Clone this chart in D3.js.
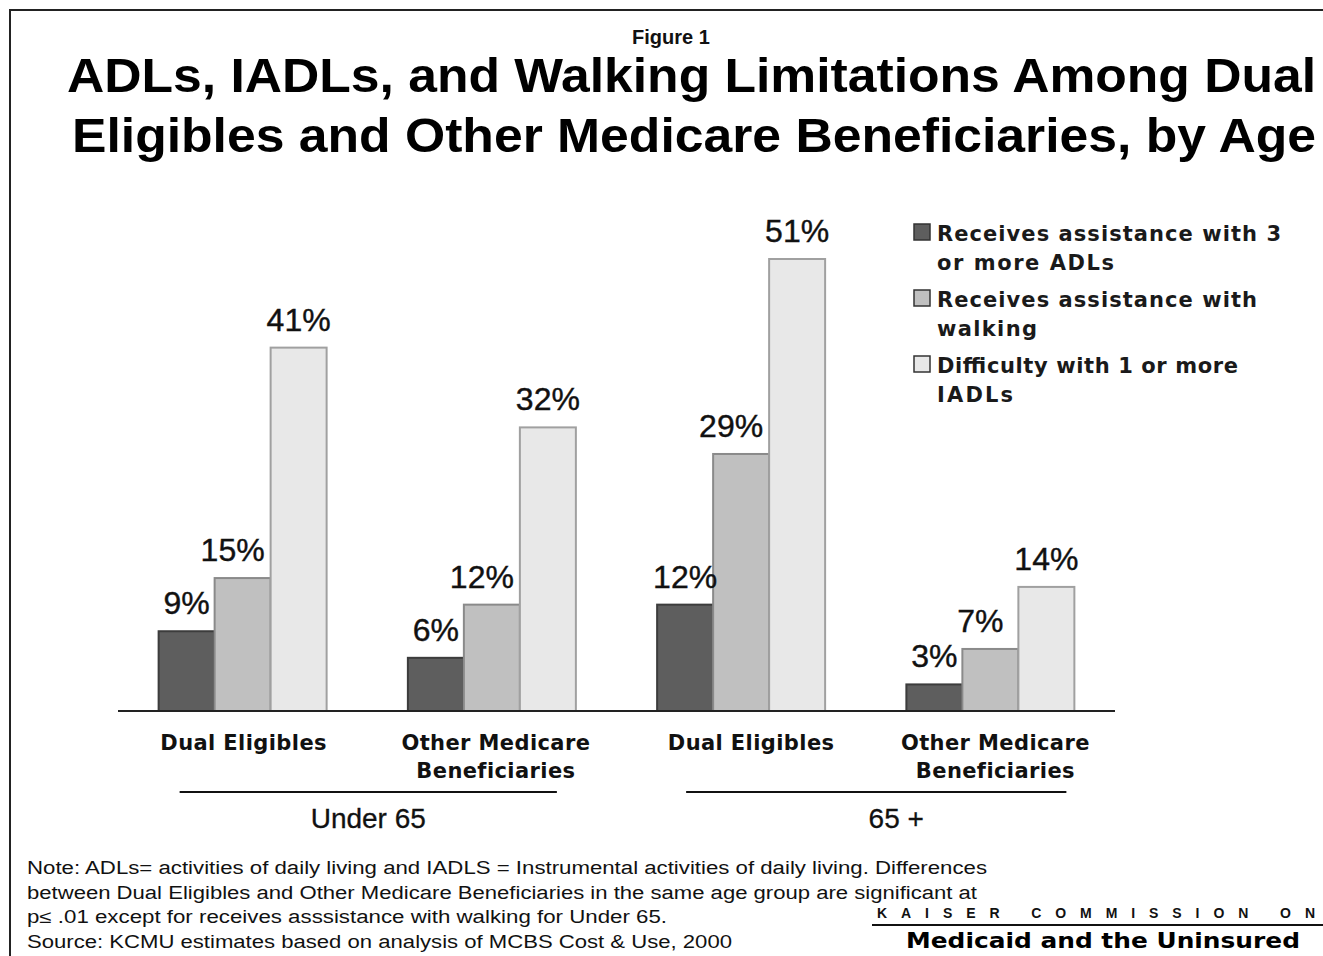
<!DOCTYPE html>
<html><head><meta charset="utf-8">
<script src="https://cdn.jsdelivr.net/npm/d3@7"></script>
<style>body{margin:0;background:#fff}svg{display:block}</style>
</head><body>
<svg id="c" width="1323" height="956"></svg>
<script>
const groups = ["Dual Eligibles|U65", "Other Medicare Beneficiaries|U65", "Dual Eligibles|65", "Other Medicare Beneficiaries|65"];
const groupLabels = [["Dual Eligibles"], ["Other Medicare", "Beneficiaries"], ["Dual Eligibles"], ["Other Medicare", "Beneficiaries"]];
const ageGroups = ["Under 65", "65 +"];
const seriesNames = ["Receives assistance with 3 or more ADLs", "Receives assistance with walking", "Difficulty with 1 or more IADLs"];
const legendLines = [["Receives assistance with 3", "or more ADLs"], ["Receives assistance with", "walking"], ["Difficulty with 1 or more", "IADLs"]];
const adl3 = [9, 6, 12, 3];
const walking = [15, 12, 29, 7];
const iadl = [41, 32, 51, 14];
const values = [adl3, walking, iadl];
const noteLines = [
  "Note: ADLs= activities of daily living and IADLS = Instrumental activities of daily living.  Differences",
  "between Dual Eligibles and Other Medicare Beneficiaries in the same age group are significant at",
  "p\u2264 .01 except for receives asssistance  with walking for Under 65.",
  "Source: KCMU estimates based on analysis of MCBS Cost & Use, 2000"
];

const svg = d3.select("#c");
const fills = ["#5e5e5e", "#c0c0c0", "#e8e8e8"];
const strokes = ["#3c3c3c", "#8a8a8a", "#a0a0a0"];

// border
svg.append("path").attr("d", "M10,956 L10,10 L1323,10").attr("fill", "none").attr("stroke", "#222").attr("stroke-width", 2);

// titles
svg.append("text").attr("x", 671).attr("y", 44).attr("text-anchor", "middle")
  .attr("font-family", "Liberation Sans, Arial, sans-serif").attr("font-size", 20).attr("font-weight", "bold").attr("fill", "#111").text("Figure 1");
const t = svg.append("g").attr("font-family", "Liberation Sans, Arial, sans-serif").attr("font-weight", "bold").attr("font-size", 48).attr("fill", "#000");
t.append("text").attr("x", 67).attr("y", 92).attr("textLength", 1249).attr("lengthAdjust", "spacingAndGlyphs").text("ADLs, IADLs, and Walking Limitations Among Dual");
t.append("text").attr("x", 72).attr("y", 152).attr("textLength", 1244).attr("lengthAdjust", "spacingAndGlyphs").text("Eligibles and Other Medicare Beneficiaries, by Age");

// scales
const x0 = d3.scaleBand().domain(groups).range([118, 1115]).paddingInner(0.326).paddingOuter(0.163);
const x1 = d3.scaleBand().domain(d3.range(3)).range([0, x0.bandwidth()]);
const y = d3.scaleLinear().domain([0, 51]).range([711, 259]);

const data = [];
groups.forEach((g, gi) => values.forEach((s, si) => data.push({g, gi, si, v: s[gi]})));

const bars = svg.append("g");
bars.selectAll("rect").data(data).join("rect")
  .attr("x", d => x0(d.g) + x1(d.si))
  .attr("y", d => y(d.v))
  .attr("width", x1.bandwidth())
  .attr("height", d => y(0) - y(d.v))
  .attr("fill", d => fills[d.si])
  .attr("stroke", d => strokes[d.si]).attr("stroke-width", 2);

const labelDx = [0, -10, 0];
svg.append("g").selectAll("text").data(data).join("text")
  .attr("x", d => x0(d.g) + x1(d.si) + x1.bandwidth() / 2 + labelDx[d.si])
  .attr("y", d => y(d.v) - 17)
  .attr("text-anchor", "middle")
  .attr("font-family", "Liberation Sans, Arial, sans-serif").attr("font-size", 32).attr("fill", "#111")
  .attr("stroke", "#111").attr("stroke-width", 0.4)
  .text(d => d.v + "%");

// axis baseline
const ax = svg.append("g").attr("transform", "translate(0,711)");
ax.call(d3.axisBottom(x0).tickSize(0).tickFormat(""));
ax.select(".domain").attr("stroke", "#222").attr("stroke-width", 2).attr("d", "M118,0H1115");

// category labels
const catDx = [1, 4, 10, 5];
const cl = svg.append("g").attr("font-family", "DejaVu Sans, Verdana, sans-serif").attr("font-weight", "bold").attr("font-size", 21).attr("fill", "#111").attr("letter-spacing", 0.4);
groups.forEach((g, gi) => {
  groupLabels[gi].forEach((ln, li) => {
    cl.append("text").attr("x", x0(g) + x0.bandwidth() / 2 + catDx[gi]).attr("y", 750 + li * 28).attr("text-anchor", "middle").text(ln);
  });
});

// age groups
const ageLineDx = [[-63, 65], [-55, 76]];
const ageTextDx = [0, 20];
ageGroups.forEach((a, ai) => {
  const xa = x0(groups[ai * 2]) + x0.bandwidth() / 2;
  const xb = x0(groups[ai * 2 + 1]) + x0.bandwidth() / 2;
  const l1 = xa + ageLineDx[ai][0], l2 = xb + ageLineDx[ai][1];
  svg.append("line").attr("x1", l1).attr("x2", l2).attr("y1", 792).attr("y2", 792).attr("stroke", "#111").attr("stroke-width", 2);
  svg.append("text").attr("x", (l1 + l2) / 2 + ageTextDx[ai]).attr("y", 828).attr("text-anchor", "middle")
    .attr("font-family", "Liberation Sans, Arial, sans-serif").attr("font-size", 28).attr("fill", "#111")
    .attr("stroke", "#111").attr("stroke-width", 0.3).text(a);
});

// legend
const lg = svg.append("g");
const legendLen = [[344, 177], [320, 100], [301, 76]];
legendLines.forEach((lines, i) => {
  const yy = 224 + i * 66;
  lg.append("rect").attr("x", 914).attr("y", yy).attr("width", 16).attr("height", 16)
    .attr("fill", fills[i]).attr("stroke", "#333").attr("stroke-width", 1.5);
  lines.forEach((ln, li) => {
    lg.append("text").attr("x", 937).attr("y", yy + 17 + li * 29)
      .attr("font-family", "DejaVu Sans, Verdana, sans-serif").attr("font-size", 21).attr("font-weight", "bold").attr("fill", "#1a1a1a")
      .attr("textLength", legendLen[i][li]).attr("lengthAdjust", "spacing").text(ln);
  });
});

// notes
const nl = svg.append("g").attr("font-family", "Liberation Sans, Arial, sans-serif").attr("font-size", 18).attr("fill", "#111");
const noteLen = [960, 950, 640, 705];
noteLines.forEach((ln, i) => {
  nl.append("text").attr("x", 27).attr("y", 874 + i * 24.5).attr("textLength", noteLen[i]).attr("lengthAdjust", "spacingAndGlyphs").text(ln);
});

// Kaiser logo
svg.append("text").attr("x", 877).attr("y", 918).attr("font-family", "Liberation Sans, Arial, sans-serif").attr("font-size", 14)
  .attr("font-weight", "bold").attr("fill", "#111").attr("textLength", 438).attr("lengthAdjust", "spacing").text("KAISER  COMMISSION  ON");
svg.append("line").attr("x1", 872).attr("x2", 1323).attr("y1", 925).attr("y2", 925).attr("stroke", "#111").attr("stroke-width", 2);
svg.append("text").attr("x", 906).attr("y", 948).attr("font-family", "DejaVu Sans, Verdana, sans-serif").attr("font-weight", "bold").attr("font-size", 22)
  .attr("fill", "#000").attr("textLength", 394).attr("lengthAdjust", "spacingAndGlyphs").text("Medicaid and the Uninsured");
</script>
</body></html>
